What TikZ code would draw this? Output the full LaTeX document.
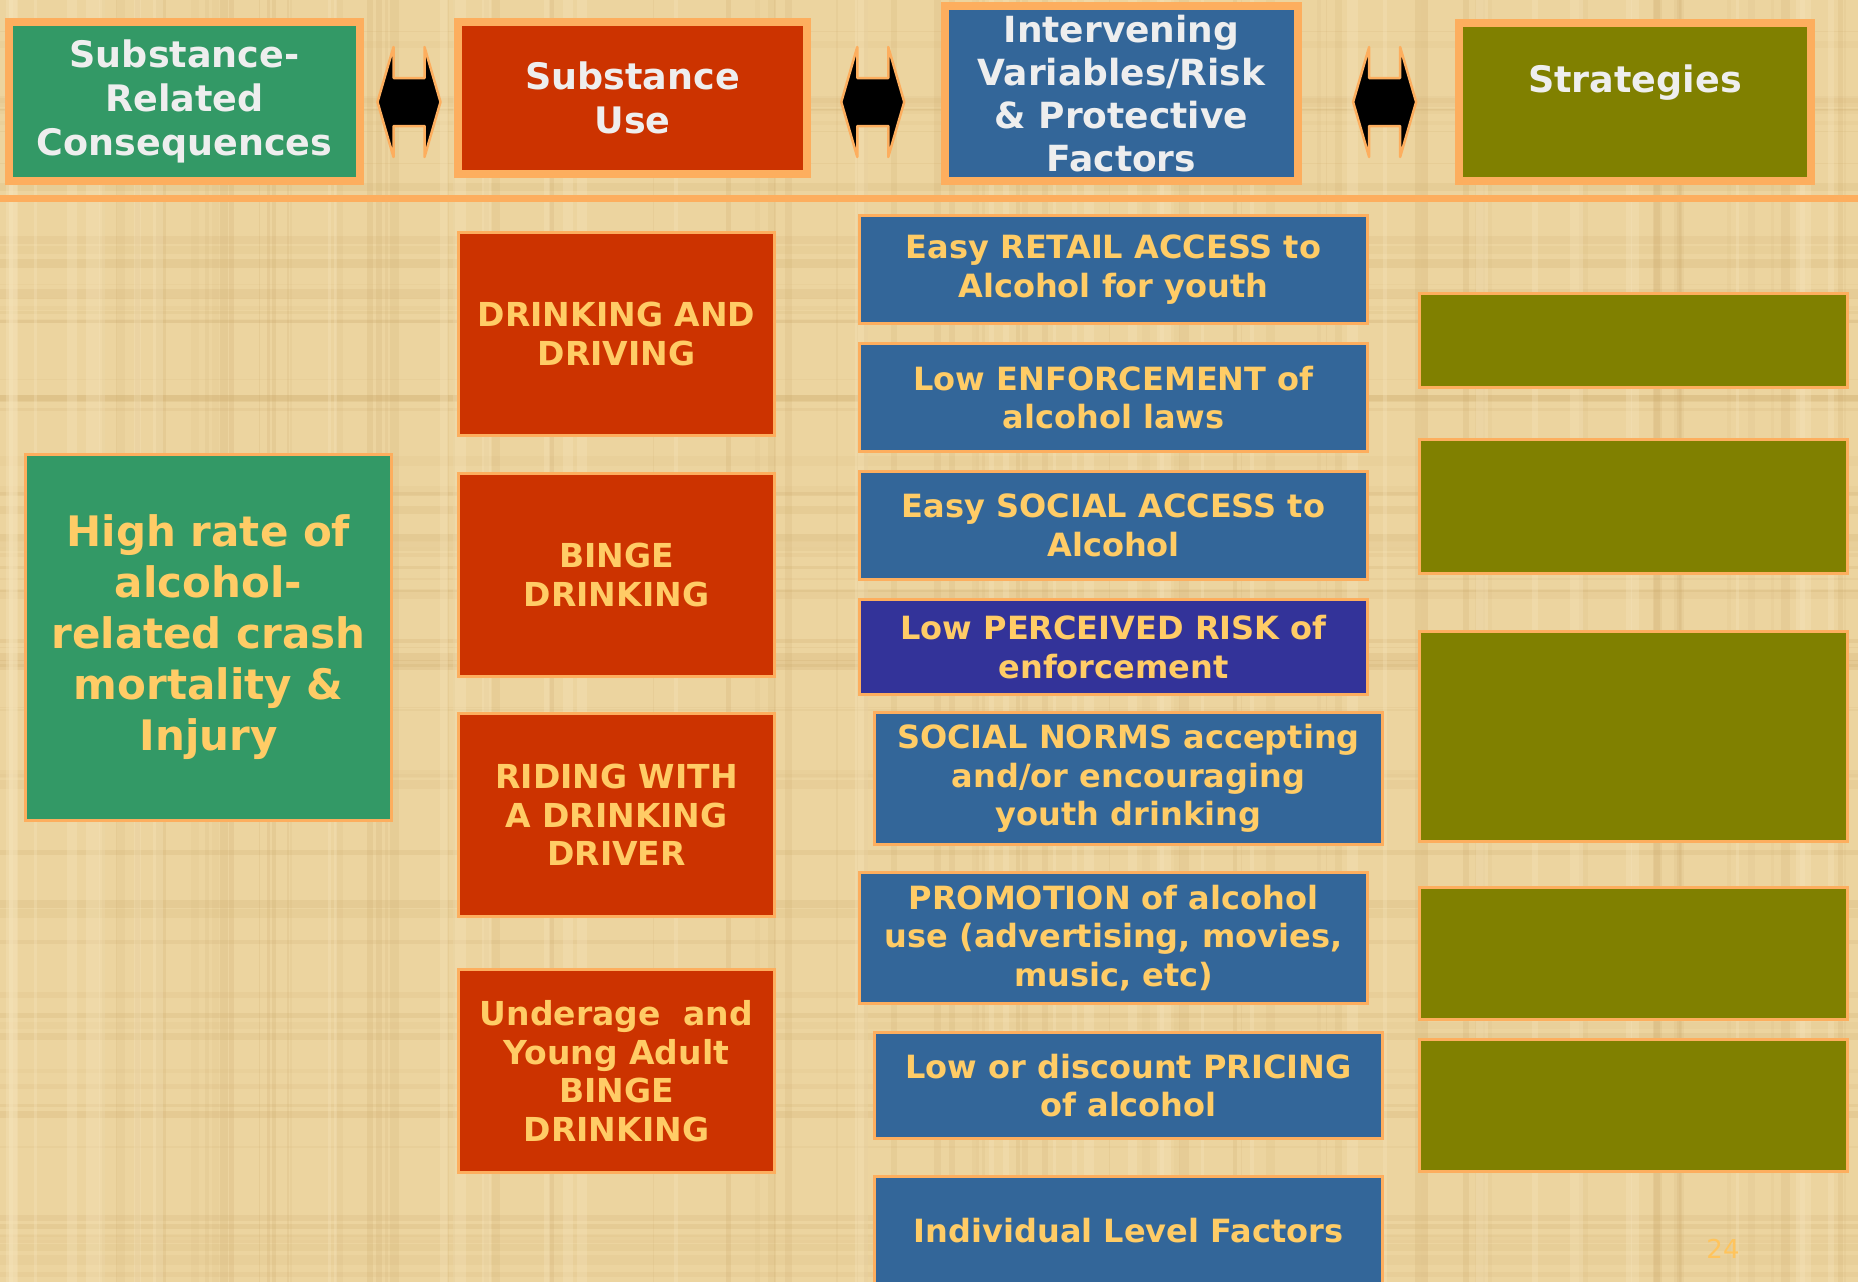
\documentclass[tikz,border=0pt]{standalone}
\usepackage{fontspec}
\setmainfont{DejaVu Sans}
\usetikzlibrary{positioning, calc}

\definecolor{papyrus}{HTML}{ECD49F}
\definecolor{papyrusdark}{HTML}{C9A566}
\definecolor{papyruslight}{HTML}{F7E6BE}
\definecolor{rimorange}{HTML}{FDAE5E}
\definecolor{consgreen}{HTML}{339966}
\definecolor{usered}{HTML}{CC3300}
\definecolor{factblue}{HTML}{336699}
\definecolor{riskindigo}{HTML}{333399}
\definecolor{stratolive}{HTML}{808000}
\definecolor{textyellow}{HTML}{FFCC66}
\definecolor{headgray}{HTML}{EEEEEE}

\tikzset{
    hdr/.style={draw=rimorange, line width=8pt, inner sep=0pt, align=center,
        text=headgray, font=\fontsize{36.5}{44}\selectfont\bfseries},
    cell/.style={draw=rimorange, line width=3pt, inner sep=0pt, align=center,
        text=textyellow, font=\fontsize{32}{38.5}\selectfont\bfseries},
    redcell/.style={cell, fill=usered, minimum width=316pt, minimum height=203pt,
        font=\fontsize{33}{38.5}\selectfont\bfseries},
    bluecell/.style={cell, fill=factblue, minimum width=508pt},
    olivecell/.style={cell, fill=stratolive, minimum width=428pt},
    dblarrow/.style={fill=black, draw=rimorange, line width=2.5pt, line join=round},
}

\begin{document}
\begin{tikzpicture}[x=1pt, y=-1pt]
    \useasboundingbox (0, 0) rectangle (1858, 1282);
    \fill[papyrus] (0, 0) rectangle (1858, 1282);
    % papyrus streaks
    \pgfmathsetseed{42}
    \foreach \i in {1,...,70} {
        \pgfmathsetmacro{\yy}{rnd*1282}
        \pgfmathsetmacro{\ww}{1+rnd*9}
        \pgfmathsetmacro{\oo}{0.06+rnd*0.14}
        \draw[papyrusdark, opacity=\oo, line width=\ww pt] (0, \yy) -- (1858, \yy);
    }
    \foreach \i in {1,...,70} {
        \pgfmathsetmacro{\xx}{rnd*1858}
        \pgfmathsetmacro{\ww}{1+rnd*9}
        \pgfmathsetmacro{\oo}{0.06+rnd*0.14}
        \draw[papyrusdark, opacity=\oo, line width=\ww pt] (\xx, 0) -- (\xx, 1282);
    }
    \foreach \i in {1,...,40} {
        \pgfmathsetmacro{\xx}{rnd*1858}
        \pgfmathsetmacro{\ww}{2+rnd*12}
        \draw[papyruslight, opacity=0.3, line width=\ww pt] (\xx, 0) -- (\xx, 1282);
    }

    % header row
    \node (h1) [hdr, fill=consgreen, minimum width=351pt, minimum height=159pt]
        at (184.5, 101.5) {Substance-\\Related\\Consequences};
    \node (h2) [hdr, fill=usered, minimum width=349pt, minimum height=152pt]
        at (632.5, 98) {Substance\\Use};
    \node (h3) [hdr, fill=factblue, minimum width=353pt, minimum height=175pt,
        font=\fontsize{36}{43}\selectfont\bfseries]
        at (1121.5, 93.5) {Intervening\\Variables/Risk\\\& Protective\\Factors};
    \node (h4) [hdr, fill=stratolive, minimum width=352pt, minimum height=158pt]
        at (1635, 102) {};
    \node (h4t) [hdr, draw=none] at ([yshift=19pt]h4.center) {Strategies};
    \coordinate (ac) at (0, 102);
    \foreach \a/\b/\f in {h1/h2/0.5, h2/h3/0.475, h3/h4/0.54} {
        \path ($(\a.east)!\f!(\b.west)$) coordinate (m);
        \filldraw[dblarrow] (m |- ac) ++(-31.5, 0) -- ++(16, -55) -- ++(0, 31)
            -- ++(31, 0) -- ++(0, -31) -- ++(16, 55) -- ++(-16, 55) -- ++(0, -31)
            -- ++(-31, 0) -- ++(0, 31) -- cycle;
    }
    % rule under the header
    \draw[rimorange, line width=7pt] (0, 198.5) -- (1858, 198.5);

    % consequences
    \node (g1) [cell, fill=consgreen, minimum width=366pt, minimum height=366pt,
        font=\fontsize{42}{51}\selectfont\bfseries]
        at (208.5, 637.5) {High rate of\\alcohol-\\related crash\\mortality \&\\Injury};

    % substance use
    \node (r1) [redcell] at (616.5, 334) {DRINKING AND\\DRIVING};
    \node (r2) [redcell, below=35pt of r1] {BINGE\\DRINKING};
    \node (r3) [redcell, below=34pt of r2] {RIDING WITH\\A DRINKING\\DRIVER};
    \node (r4) [redcell, below=50pt of r3] {Underage\ \ and\\Young Adult\\BINGE\\DRINKING};

    % intervening variables
    \node (p1) [bluecell, minimum height=108pt] at (1113.5, 269.5) {Easy RETAIL ACCESS to\\Alcohol for youth};
    \node (p2) [bluecell, minimum height=108pt] at (1113.5, 397.5) {Low ENFORCEMENT of\\alcohol laws};
    \node (p3) [bluecell, minimum height=108pt] at (1113.5, 525.5) {Easy SOCIAL ACCESS to\\Alcohol};
    \node (p4) [bluecell, fill=riskindigo, minimum height=95pt] at (1113.5, 647) {Low PERCEIVED RISK of\\enforcement};
    \node (p5) [bluecell, minimum height=132pt] at (1128.5, 778.5) {SOCIAL NORMS accepting\\and/or encouraging\\youth drinking};
    \node (p6) [bluecell, minimum height=131pt] at (1113.5, 938) {PROMOTION of alcohol\\use (advertising, movies,\\music, etc)};
    \node (p7) [bluecell, minimum height=106pt] at (1128.5, 1085.5) {Low or discount PRICING\\of alcohol};
    \node (p8) [bluecell, minimum height=110pt] at (1128.5, 1231) {Individual Level Factors};

    % strategies
    \node (s1) [olivecell, minimum height=94pt] at (1633.5, 340.5) {};
    \node (s2) [olivecell, minimum height=134pt] at (1633.5, 506.5) {};
    \node (s3) [olivecell, minimum height=210pt] at (1633.5, 736.5) {};
    \node (s4) [olivecell, minimum height=132pt] at (1633.5, 953.5) {};
    \node (s5) [olivecell, minimum height=132pt] at (1633.5, 1105.5) {};

    \node (pgno) [text=textyellow!90!orange, font=\fontsize{26}{30}\selectfont] at (1723, 1249) {24};
\end{tikzpicture}
\end{document}
